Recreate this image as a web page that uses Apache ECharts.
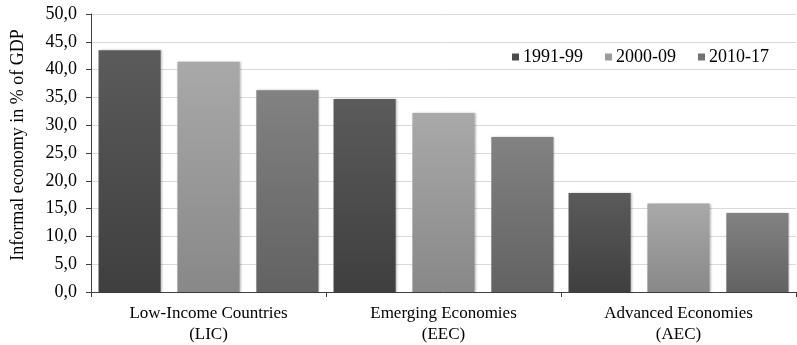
<!DOCTYPE html>
<html>
<head>
<meta charset="utf-8">
<script src="https://cdn.jsdelivr.net/npm/echarts@6/dist/echarts.min.js"></script>
<style>
  html, body { margin: 0; padding: 0; background: #fff; }
  #chart { width: 797px; height: 345px; }
</style>
</head>
<body>
<div id="chart"></div>
<script>
// Country groups on the x axis
const categories = ['Low-Income Countries\n(LIC)', 'Emerging Economies\n(EEC)', 'Advanced Economies\n(AEC)'];
// Period averages of the informal economy, % of GDP
const period1991 = [43.5, 34.7, 17.8];
const period2000 = [41.4, 32.2, 15.9];
const period2010 = [36.3, 27.9, 14.2];
const seriesNames = ['1991-99', '2000-09', '2010-17'];

const FONT = '"Liberation Serif", "Times New Roman", serif';

function shade(top, bottom) {
  return new echarts.graphic.LinearGradient(0, 0, 0, 1, [
    { offset: 0, color: top },
    { offset: 1, color: bottom }
  ]);
}

const palette = [
  { top: '#5b5b5b', bottom: '#3f3f3f', legend: '#4a4a4a' },
  { top: '#a9a9a9', bottom: '#888888', legend: '#9c9c9c' },
  { top: '#828282', bottom: '#626262', legend: '#727272' }
];

const values = [period1991, period2000, period2010];

const chart = echarts.init(document.getElementById('chart'), null, { renderer: 'canvas' });

chart.setOption({
  animation: false,
  backgroundColor: '#ffffff',
  textStyle: { fontFamily: FONT },
  grid: { left: 91, right: 1, top: 14, bottom: 53, containLabel: false, outerBoundsMode: 'none' },
  legend: {
    data: seriesNames.map((n, i) => ({ name: n, itemStyle: { color: palette[i].legend } })),
    right: 24,
    top: 47,
    itemWidth: 7,
    itemHeight: 7,
    itemGap: 22,
    icon: 'rect',
    backgroundColor: '#ffffff',
    padding: [1, 4],
    textStyle: { fontFamily: FONT, fontSize: 18, color: '#000', padding: [0, 0, 0, -1] }
  },
  xAxis: {
    type: 'category',
    data: categories,
    axisLine: { lineStyle: { color: '#404040', width: 1 } },
    axisTick: { show: true, length: 5, lineStyle: { color: '#404040' } },
    axisLabel: {
      fontFamily: FONT, fontSize: 17, color: '#000', lineHeight: 21, margin: 11,
      interval: 0
    }
  },
  yAxis: {
    type: 'value',
    min: 0,
    max: 50,
    interval: 5,
    name: 'Informal economy in % of GDP',
    nameLocation: 'middle',
    nameGap: 64,
    nameRotate: 90,
    nameTextStyle: { fontFamily: FONT, fontSize: 18, color: '#000', padding: [0, 0, 0, 16] },
    axisLine: { show: true, lineStyle: { color: '#404040', width: 1 } },
    axisTick: { show: true, length: 5, lineStyle: { color: '#404040' } },
    axisLabel: {
      fontFamily: FONT, fontSize: 18, color: '#000', margin: 14,
      formatter: v => v.toFixed(1).replace('.', ',')
    },
    splitLine: { show: true, lineStyle: { color: '#d9d9d9', width: 1 } }
  },
  series: seriesNames.map((name, i) => ({
    name: name,
    type: 'bar',
    data: values[i],
    barGap: '27%',
    barCategoryGap: '6.4%',
    itemStyle: {
      color: shade(palette[i].top, palette[i].bottom),
      shadowColor: 'rgba(0,0,0,0.25)',
      shadowBlur: 2,
      shadowOffsetX: 1
    }
  }))
});
</script>
</body>
</html>
